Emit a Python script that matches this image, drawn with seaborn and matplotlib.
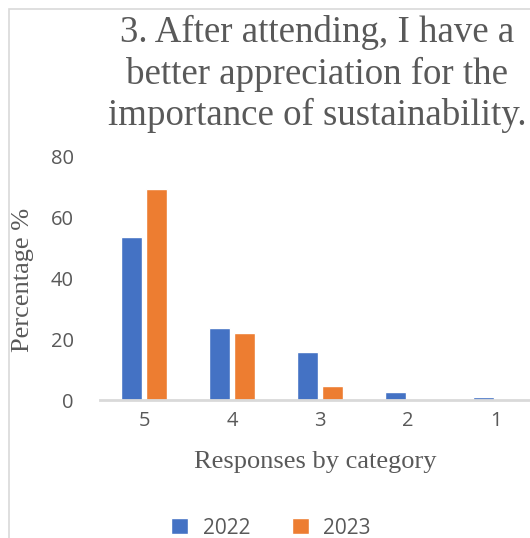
import matplotlib
matplotlib.use("Agg")
import matplotlib.pyplot as plt
import seaborn as sns
import pandas as pd
from matplotlib.patches import Rectangle

categories = ["5", "4", "3", "2", "1"]
values_2022 = [53.8, 23.7, 15.8, 2.6, 1.1]
values_2023 = [69.6, 22.2, 4.7, 0.0, 0.0]
series = ["2022", "2023"]
colors = ["#4472C4", "#ED7D31"]
title = "3. After attending, I have a\nbetter appreciation for the\nimportance of sustainability."

df = pd.DataFrame({
    "category": categories * 2,
    "value": values_2022 + values_2023,
    "year": [series[0]] * len(categories) + [series[1]] * len(categories),
})

sns.set_theme(style="white")
plt.rcParams["font.family"] = ["Open Sans", "DejaVu Sans"]

fig = plt.figure(figsize=(5.30, 5.38), dpi=100)
ax = fig.add_axes([100 / 530, (538 - 400) / 538, 440 / 530, (400 - 157) / 538])

sns.barplot(data=df, x="category", y="value", hue="year", order=categories,
            hue_order=series, palette=colors, width=0.59, gap=0.19,
            saturation=1, ax=ax, legend=True)

ax.set_xlim(-0.5, 4.5)
ax.set_ylim(0, 80)
ax.set_yticks([0, 20, 40, 60, 80])
for s in ["top", "right", "left"]:
    ax.spines[s].set_visible(False)
ax.spines["bottom"].set_color("#D9D9D9")
ax.spines["bottom"].set_linewidth(2)
ax.tick_params(axis="both", length=0, labelsize=14.5, labelcolor="#595959")
ax.tick_params(axis="y", pad=19)
ax.tick_params(axis="x", pad=8)

serif = ["Liberation Serif", "DejaVu Serif"]
ax.set_ylabel("Percentage %", fontsize=19, color="#595959", family=serif)
ax.yaxis.set_label_coords(-77 / 440, (400 - 280) / 243)
ax.set_xlabel("Responses by category", fontsize=19, color="#595959", family=serif)
ax.xaxis.set_label_coords((315 - 100) / 440, -(462 - 400) / 243)
ax.xaxis.label.set_va("center")
ax.yaxis.label.set_va("center")

fig.text(317 / 530, 1 - 74 / 538, title, ha="center", va="center",
         fontsize=26.6, color="#595959", family=serif, linespacing=1.22)

leg = ax.legend(loc="center", bbox_to_anchor=(271 / 530, 1 - 528 / 538),
                bbox_transform=fig.transFigure, ncol=2, frameon=False,
                fontsize=15, handlelength=0.8, handleheight=0.8,
                columnspacing=2.0, handletextpad=0.7)
for t in leg.get_texts():
    t.set_color("#595959")

fig.patches.append(Rectangle((8.5 / 530, -0.1), 1.2, 1.1 - 9 / 538,
                             transform=fig.transFigure, fill=False,
                             edgecolor="#D9D9D9", linewidth=1.2))

fig.savefig("out.png", dpi=100)
